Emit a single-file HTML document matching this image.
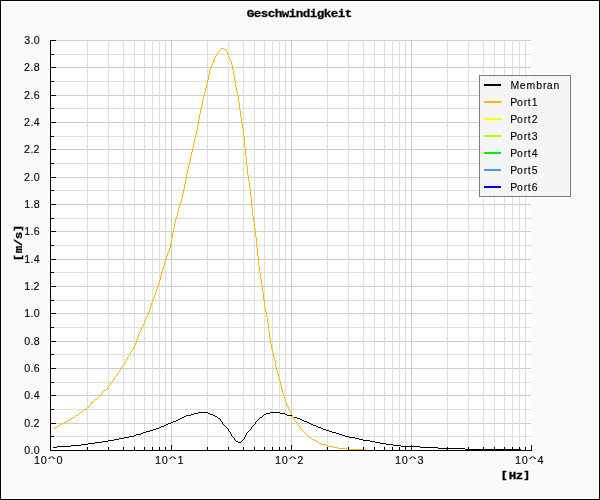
<!DOCTYPE html>
<html><head><meta charset="utf-8"><title>Geschwindigkeit</title>
<style>html,body{margin:0;padding:0;background:#fafafa;}svg{display:block;will-change:transform;}text{font-family:"Liberation Sans",sans-serif;fill:#000;}.m{font-family:"Liberation Mono",monospace;font-weight:bold;}</style>
</head><body>
<svg width="600" height="500" viewBox="0 0 600 500">
<rect x="0" y="0" width="600" height="500" fill="#000"/>
<rect x="1" y="1" width="598" height="498" fill="#fff"/>
<rect x="2" y="2" width="596" height="496" fill="#fafafa"/>
<rect x="51" y="40" width="480" height="410" fill="#fff"/>
<g shape-rendering="crispEdges">
<rect x="51" y="40" width="480" height="1" fill="#cccccc"/>
<rect x="51" y="54" width="480" height="1" fill="#dedede"/>
<rect x="51" y="67" width="480" height="1" fill="#cccccc"/>
<rect x="51" y="81" width="480" height="1" fill="#dedede"/>
<rect x="51" y="95" width="480" height="1" fill="#cccccc"/>
<rect x="51" y="108" width="480" height="1" fill="#dedede"/>
<rect x="51" y="122" width="480" height="1" fill="#cccccc"/>
<rect x="51" y="136" width="480" height="1" fill="#dedede"/>
<rect x="51" y="149" width="480" height="1" fill="#cccccc"/>
<rect x="51" y="163" width="480" height="1" fill="#dedede"/>
<rect x="51" y="177" width="480" height="1" fill="#cccccc"/>
<rect x="51" y="190" width="480" height="1" fill="#dedede"/>
<rect x="51" y="204" width="480" height="1" fill="#cccccc"/>
<rect x="51" y="218" width="480" height="1" fill="#dedede"/>
<rect x="51" y="231" width="480" height="1" fill="#cccccc"/>
<rect x="51" y="245" width="480" height="1" fill="#dedede"/>
<rect x="51" y="259" width="480" height="1" fill="#cccccc"/>
<rect x="51" y="272" width="480" height="1" fill="#dedede"/>
<rect x="51" y="286" width="480" height="1" fill="#cccccc"/>
<rect x="51" y="300" width="480" height="1" fill="#dedede"/>
<rect x="51" y="313" width="480" height="1" fill="#cccccc"/>
<rect x="51" y="327" width="480" height="1" fill="#dedede"/>
<rect x="51" y="341" width="480" height="1" fill="#cccccc"/>
<rect x="51" y="354" width="480" height="1" fill="#dedede"/>
<rect x="51" y="368" width="480" height="1" fill="#cccccc"/>
<rect x="51" y="382" width="480" height="1" fill="#dedede"/>
<rect x="51" y="395" width="480" height="1" fill="#cccccc"/>
<rect x="51" y="409" width="480" height="1" fill="#dedede"/>
<rect x="51" y="423" width="480" height="1" fill="#cccccc"/>
<rect x="51" y="436" width="480" height="1" fill="#dedede"/>
<rect x="87" y="40" width="1" height="410" fill="#dedede"/>
<rect x="108" y="40" width="1" height="410" fill="#dedede"/>
<rect x="123" y="40" width="1" height="410" fill="#dedede"/>
<rect x="134" y="40" width="1" height="410" fill="#dedede"/>
<rect x="144" y="40" width="1" height="410" fill="#dedede"/>
<rect x="152" y="40" width="1" height="410" fill="#dedede"/>
<rect x="159" y="40" width="1" height="410" fill="#dedede"/>
<rect x="165" y="40" width="1" height="410" fill="#dedede"/>
<rect x="171" y="40" width="1" height="410" fill="#cccccc"/>
<rect x="207" y="40" width="1" height="410" fill="#dedede"/>
<rect x="228" y="40" width="1" height="410" fill="#dedede"/>
<rect x="243" y="40" width="1" height="410" fill="#dedede"/>
<rect x="254" y="40" width="1" height="410" fill="#dedede"/>
<rect x="264" y="40" width="1" height="410" fill="#dedede"/>
<rect x="272" y="40" width="1" height="410" fill="#dedede"/>
<rect x="279" y="40" width="1" height="410" fill="#dedede"/>
<rect x="285" y="40" width="1" height="410" fill="#dedede"/>
<rect x="291" y="40" width="1" height="410" fill="#cccccc"/>
<rect x="327" y="40" width="1" height="410" fill="#dedede"/>
<rect x="348" y="40" width="1" height="410" fill="#dedede"/>
<rect x="363" y="40" width="1" height="410" fill="#dedede"/>
<rect x="374" y="40" width="1" height="410" fill="#dedede"/>
<rect x="384" y="40" width="1" height="410" fill="#dedede"/>
<rect x="392" y="40" width="1" height="410" fill="#dedede"/>
<rect x="399" y="40" width="1" height="410" fill="#dedede"/>
<rect x="405" y="40" width="1" height="410" fill="#dedede"/>
<rect x="411" y="40" width="1" height="410" fill="#cccccc"/>
<rect x="447" y="40" width="1" height="410" fill="#dedede"/>
<rect x="468" y="40" width="1" height="410" fill="#dedede"/>
<rect x="483" y="40" width="1" height="410" fill="#dedede"/>
<rect x="494" y="40" width="1" height="410" fill="#dedede"/>
<rect x="504" y="40" width="1" height="410" fill="#dedede"/>
<rect x="512" y="40" width="1" height="410" fill="#dedede"/>
<rect x="519" y="40" width="1" height="410" fill="#dedede"/>
<rect x="525" y="40" width="1" height="410" fill="#dedede"/>
</g>
<path d="M198 412h10v1h-10zM270 412h10v1h-10zM194 413h4v1h-4zM208 413h2v1h-2zM266 413h4v1h-4zM280 413h5v1h-5zM191 414h3v1h-3zM210 414h3v1h-3zM264 414h2v1h-2zM285 414h2v1h-2zM186 415h5v1h-5zM213 415h2v1h-2zM263 415h1v1h-1zM287 415h5v1h-5zM184 416h2v1h-2zM215 416h2v1h-2zM262 416h1v1h-1zM292 416h1v1h-1zM182 417h2v1h-2zM217 417h1v1h-1zM260 417h2v1h-2zM293 417h4v1h-4zM180 418h2v1h-2zM218 418h2v1h-2zM259 418h1v1h-1zM297 418h3v1h-3zM178 419h2v1h-2zM258 419h1v1h-1zM300 419h2v1h-2zM220 419h1v2h-1zM176 420h2v1h-2zM257 420h1v1h-1zM302 420h2v1h-2zM173 421h3v1h-3zM221 421h1v1h-1zM256 421h1v1h-1zM304 421h3v1h-3zM171 422h2v1h-2zM307 422h2v1h-2zM222 422h1v2h-1zM255 422h1v2h-1zM168 423h3v1h-3zM309 423h2v1h-2zM166 424h2v1h-2zM223 424h1v1h-1zM254 424h1v1h-1zM311 424h2v1h-2zM164 425h2v1h-2zM224 425h1v1h-1zM253 425h1v1h-1zM313 425h3v1h-3zM161 426h3v1h-3zM225 426h1v1h-1zM252 426h1v1h-1zM316 426h2v1h-2zM159 427h2v1h-2zM226 427h1v1h-1zM318 427h3v1h-3zM251 427h1v2h-1zM156 428h3v1h-3zM227 428h1v1h-1zM321 428h2v1h-2zM153 429h3v1h-3zM250 429h1v1h-1zM323 429h3v1h-3zM228 429h1v2h-1zM150 430h3v1h-3zM249 430h1v1h-1zM326 430h3v1h-3zM146 431h4v1h-4zM229 431h1v1h-1zM248 431h1v1h-1zM329 431h3v1h-3zM143 432h3v1h-3zM247 432h1v1h-1zM332 432h4v1h-4zM230 432h1v2h-1zM141 433h2v1h-2zM336 433h3v1h-3zM246 433h1v2h-1zM136 434h5v1h-5zM339 434h3v1h-3zM231 434h1v2h-1zM134 435h2v1h-2zM342 435h3v1h-3zM245 435h1v2h-1zM129 436h5v1h-5zM232 436h1v1h-1zM345 436h4v1h-4zM124 437h5v1h-5zM233 437h1v1h-1zM349 437h6v1h-6zM244 437h1v2h-1zM119 438h5v1h-5zM355 438h4v1h-4zM234 438h1v2h-1zM114 439h5v1h-5zM243 439h1v1h-1zM359 439h4v1h-4zM108 440h6v1h-6zM235 440h1v1h-1zM242 440h1v1h-1zM363 440h7v1h-7zM102 441h6v1h-6zM236 441h2v1h-2zM241 441h1v1h-1zM370 441h5v1h-5zM95 442h7v1h-7zM238 442h3v1h-3zM375 442h5v1h-5zM88 443h7v1h-7zM380 443h6v1h-6zM81 444h7v1h-7zM386 444h7v1h-7zM71 445h10v1h-10zM393 445h8v1h-8zM57 446h14v1h-14zM401 446h19v1h-19zM53 447h4v1h-4zM420 447h18v1h-18zM438 448h27v1h-27zM465 449h56v1h-56zM521 450h9v1h-9z" fill="#000" shape-rendering="crispEdges"/>
<path d="M221 48h3v1h-3zM220 49h1v1h-1zM224 49h2v1h-2zM219 50h1v1h-1zM226 50h1v2h-1zM218 51h1v1h-1zM217 52h1v2h-1zM227 52h1v2h-1zM216 54h1v2h-1zM228 54h1v3h-1zM215 56h1v2h-1zM229 57h1v2h-1zM214 58h1v3h-1zM230 59h1v2h-1zM213 60h1v3h-1zM231 61h1v4h-1zM212 63h1v2h-1zM211 65h1v2h-1zM232 65h1v5h-1zM210 67h1v3h-1zM209 70h1v5h-1zM233 70h1v5h-1zM208 75h1v5h-1zM234 75h1v6h-1zM207 80h1v4h-1zM235 81h1v6h-1zM206 84h1v4h-1zM236 87h1v4h-1zM205 88h1v4h-1zM237 91h1v4h-1zM204 92h1v4h-1zM238 95h1v7h-1zM203 96h1v4h-1zM202 100h1v5h-1zM239 102h1v8h-1zM201 105h1v4h-1zM200 109h1v5h-1zM240 110h1v7h-1zM199 114h1v5h-1zM241 117h1v6h-1zM198 119h1v6h-1zM242 123h1v6h-1zM197 125h1v5h-1zM243 129h1v8h-1zM196 130h1v5h-1zM195 135h1v4h-1zM244 137h1v10h-1zM194 139h1v4h-1zM193 143h1v5h-1zM245 147h1v9h-1zM192 148h1v4h-1zM191 152h1v4h-1zM190 156h1v5h-1zM246 156h1v10h-1zM189 161h1v4h-1zM188 165h1v4h-1zM247 166h1v9h-1zM187 169h1v5h-1zM186 174h1v5h-1zM248 175h1v6h-1zM185 179h1v5h-1zM249 181h1v7h-1zM184 184h1v5h-1zM250 188h1v9h-1zM183 189h1v5h-1zM182 194h1v4h-1zM251 197h1v10h-1zM181 198h1v4h-1zM180 202h1v3h-1zM179 205h1v3h-1zM252 207h1v9h-1zM178 208h1v4h-1zM177 212h1v4h-1zM176 216h1v3h-1zM253 216h1v6h-1zM175 219h1v4h-1zM254 222h1v7h-1zM174 223h1v5h-1zM173 228h1v5h-1zM255 229h1v8h-1zM172 233h1v5h-1zM256 237h1v10h-1zM171 238h1v5h-1zM170 243h1v5h-1zM257 247h1v9h-1zM169 248h1v3h-1zM168 251h1v2h-1zM167 253h1v3h-1zM166 256h1v3h-1zM258 256h1v10h-1zM165 259h1v3h-1zM164 262h1v4h-1zM163 266h1v3h-1zM259 266h1v7h-1zM162 269h1v3h-1zM161 272h1v4h-1zM260 273h1v6h-1zM160 276h1v4h-1zM261 279h1v6h-1zM159 280h1v3h-1zM158 283h1v3h-1zM262 285h1v7h-1zM157 286h1v3h-1zM156 289h1v3h-1zM155 292h1v3h-1zM263 292h1v8h-1zM154 295h1v3h-1zM153 298h1v3h-1zM264 300h1v7h-1zM152 301h1v2h-1zM151 303h1v3h-1zM150 306h1v3h-1zM265 307h1v5h-1zM149 309h1v3h-1zM148 312h1v3h-1zM266 312h1v5h-1zM147 315h1v2h-1zM146 317h1v2h-1zM267 317h1v6h-1zM145 319h1v2h-1zM144 321h1v3h-1zM268 323h1v8h-1zM143 324h1v2h-1zM142 326h1v2h-1zM141 328h1v2h-1zM140 330h1v2h-1zM269 331h1v7h-1zM139 332h1v2h-1zM138 334h1v3h-1zM137 337h1v3h-1zM270 338h1v6h-1zM136 340h1v3h-1zM135 343h1v2h-1zM271 344h1v5h-1zM134 345h1v2h-1zM133 347h1v2h-1zM132 349h1v2h-1zM272 349h1v4h-1zM131 351h1v1h-1zM130 352h1v2h-1zM273 353h1v4h-1zM129 354h1v2h-1zM128 356h1v1h-1zM127 357h1v2h-1zM274 357h1v4h-1zM126 359h1v2h-1zM125 361h1v2h-1zM275 361h1v6h-1zM124 363h1v2h-1zM123 365h1v1h-1zM122 366h1v1h-1zM121 367h1v2h-1zM276 367h1v4h-1zM120 369h1v1h-1zM119 370h1v2h-1zM277 371h1v3h-1zM118 372h1v1h-1zM117 373h1v2h-1zM278 374h1v3h-1zM116 375h1v1h-1zM115 376h1v1h-1zM114 377h1v2h-1zM279 377h1v4h-1zM113 379h1v2h-1zM112 381h1v1h-1zM280 381h1v4h-1zM111 382h1v1h-1zM110 383h1v2h-1zM109 385h1v1h-1zM281 385h1v4h-1zM108 386h1v1h-1zM107 387h1v2h-1zM106 389h1v1h-1zM282 389h1v4h-1zM104 390h2v1h-2zM103 391h1v1h-1zM102 392h1v1h-1zM101 393h1v2h-1zM283 393h1v3h-1zM100 395h1v1h-1zM99 396h1v1h-1zM284 396h1v3h-1zM98 397h1v1h-1zM97 398h1v1h-1zM95 399h2v1h-2zM285 399h1v3h-1zM94 400h1v1h-1zM93 401h1v1h-1zM92 402h1v1h-1zM91 402h1v2h-1zM286 402h1v3h-1zM90 404h1v1h-1zM89 405h1v2h-1zM287 405h1v2h-1zM87 407h2v1h-2zM288 407h1v2h-1zM86 408h1v1h-1zM84 409h2v1h-2zM289 409h1v2h-1zM83 410h1v1h-1zM82 411h1v1h-1zM290 411h1v2h-1zM80 412h2v1h-2zM79 413h1v1h-1zM291 413h1v2h-1zM78 414h1v1h-1zM76 415h2v1h-2zM292 415h1v2h-1zM75 416h1v1h-1zM73 417h2v1h-2zM293 417h1v2h-1zM71 418h2v1h-2zM70 419h1v1h-1zM294 419h1v2h-1zM68 420h2v1h-2zM66 421h2v1h-2zM295 421h1v1h-1zM64 422h2v1h-2zM296 422h1v2h-1zM62 423h2v1h-2zM60 424h2v1h-2zM297 424h1v1h-1zM59 425h1v1h-1zM298 425h1v1h-1zM57 426h2v1h-2zM299 426h1v1h-1zM55 427h2v1h-2zM300 427h1v2h-1zM53 428h2v1h-2zM301 429h1v1h-1zM302 430h1v1h-1zM303 431h1v1h-1zM304 432h1v1h-1zM305 433h1v1h-1zM306 434h1v1h-1zM307 435h1v1h-1zM308 436h1v1h-1zM309 437h2v1h-2zM311 438h1v1h-1zM312 439h2v1h-2zM314 440h2v1h-2zM316 441h2v1h-2zM318 442h1v1h-1zM319 443h2v1h-2zM321 444h5v1h-5zM326 445h2v1h-2zM328 446h5v1h-5zM333 447h5v1h-5zM338 448h9v1h-9zM347 449h19v1h-19zM366 450h164v1h-164z" fill="#ffb600" shape-rendering="crispEdges"/>
<g shape-rendering="crispEdges" fill="#000">
<rect x="50" y="40" width="1" height="411"/>
<rect x="50" y="450" width="482" height="1"/>
<rect x="51" y="40" width="5" height="1"/>
<rect x="51" y="54" width="3" height="1"/>
<rect x="51" y="67" width="5" height="1"/>
<rect x="51" y="81" width="3" height="1"/>
<rect x="51" y="95" width="5" height="1"/>
<rect x="51" y="108" width="3" height="1"/>
<rect x="51" y="122" width="5" height="1"/>
<rect x="51" y="136" width="3" height="1"/>
<rect x="51" y="149" width="5" height="1"/>
<rect x="51" y="163" width="3" height="1"/>
<rect x="51" y="177" width="5" height="1"/>
<rect x="51" y="190" width="3" height="1"/>
<rect x="51" y="204" width="5" height="1"/>
<rect x="51" y="218" width="3" height="1"/>
<rect x="51" y="231" width="5" height="1"/>
<rect x="51" y="245" width="3" height="1"/>
<rect x="51" y="259" width="5" height="1"/>
<rect x="51" y="272" width="3" height="1"/>
<rect x="51" y="286" width="5" height="1"/>
<rect x="51" y="300" width="3" height="1"/>
<rect x="51" y="313" width="5" height="1"/>
<rect x="51" y="327" width="3" height="1"/>
<rect x="51" y="341" width="5" height="1"/>
<rect x="51" y="354" width="3" height="1"/>
<rect x="51" y="368" width="5" height="1"/>
<rect x="51" y="382" width="3" height="1"/>
<rect x="51" y="395" width="5" height="1"/>
<rect x="51" y="409" width="3" height="1"/>
<rect x="51" y="423" width="5" height="1"/>
<rect x="51" y="436" width="3" height="1"/>
<rect x="51" y="450" width="5" height="1"/>
<rect x="87" y="447" width="1" height="3"/>
<rect x="108" y="447" width="1" height="3"/>
<rect x="123" y="447" width="1" height="3"/>
<rect x="134" y="447" width="1" height="3"/>
<rect x="144" y="447" width="1" height="3"/>
<rect x="152" y="447" width="1" height="3"/>
<rect x="159" y="447" width="1" height="3"/>
<rect x="165" y="447" width="1" height="3"/>
<rect x="171" y="445" width="1" height="5"/>
<rect x="207" y="447" width="1" height="3"/>
<rect x="228" y="447" width="1" height="3"/>
<rect x="243" y="447" width="1" height="3"/>
<rect x="254" y="447" width="1" height="3"/>
<rect x="264" y="447" width="1" height="3"/>
<rect x="272" y="447" width="1" height="3"/>
<rect x="279" y="447" width="1" height="3"/>
<rect x="285" y="447" width="1" height="3"/>
<rect x="291" y="445" width="1" height="5"/>
<rect x="327" y="447" width="1" height="3"/>
<rect x="348" y="447" width="1" height="3"/>
<rect x="363" y="447" width="1" height="3"/>
<rect x="374" y="447" width="1" height="3"/>
<rect x="384" y="447" width="1" height="3"/>
<rect x="392" y="447" width="1" height="3"/>
<rect x="399" y="447" width="1" height="3"/>
<rect x="405" y="447" width="1" height="3"/>
<rect x="411" y="445" width="1" height="5"/>
<rect x="447" y="447" width="1" height="3"/>
<rect x="468" y="447" width="1" height="3"/>
<rect x="483" y="447" width="1" height="3"/>
<rect x="494" y="447" width="1" height="3"/>
<rect x="504" y="447" width="1" height="3"/>
<rect x="512" y="447" width="1" height="3"/>
<rect x="519" y="447" width="1" height="3"/>
<rect x="525" y="447" width="1" height="3"/>
<rect x="531" y="445" width="1" height="5"/>
</g>
<text font-size="10.45" stroke="#000" stroke-width="0.12" x="23.75 29.87 33.09" y="0" transform="translate(0 43.65) scale(1.02 1.0)">3.0</text>
<text font-size="10.45" stroke="#000" stroke-width="0.12" x="23.61 29.87 33.09" y="0" transform="translate(0 70.65) scale(1.02 1.0)">2.8</text>
<text font-size="10.45" stroke="#000" stroke-width="0.12" x="23.61 29.87 33.09" y="0" transform="translate(0 98.65) scale(1.02 1.0)">2.6</text>
<text font-size="10.45" stroke="#000" stroke-width="0.12" x="23.61 29.87 33.09" y="0" transform="translate(0 125.65) scale(1.02 1.0)">2.4</text>
<text font-size="10.45" stroke="#000" stroke-width="0.12" x="23.61 29.87 32.96" y="0" transform="translate(0 152.65) scale(1.02 1.0)">2.2</text>
<text font-size="10.45" stroke="#000" stroke-width="0.12" x="23.61 29.87 33.09" y="0" transform="translate(0 180.65) scale(1.02 1.0)">2.0</text>
<text font-size="10.45" stroke="#000" stroke-width="0.12" x="23.68 29.87 33.09" y="0" transform="translate(0 207.65) scale(1.02 1.0)">1.8</text>
<text font-size="10.45" stroke="#000" stroke-width="0.12" x="23.68 29.87 33.09" y="0" transform="translate(0 234.65) scale(1.02 1.0)">1.6</text>
<text font-size="10.45" stroke="#000" stroke-width="0.12" x="23.68 29.87 33.09" y="0" transform="translate(0 262.65) scale(1.02 1.0)">1.4</text>
<text font-size="10.45" stroke="#000" stroke-width="0.12" x="23.68 29.87 32.96" y="0" transform="translate(0 289.65) scale(1.02 1.0)">1.2</text>
<text font-size="10.45" stroke="#000" stroke-width="0.12" x="23.68 29.87 33.09" y="0" transform="translate(0 316.65) scale(1.02 1.0)">1.0</text>
<text font-size="10.45" stroke="#000" stroke-width="0.12" x="23.74 29.87 33.09" y="0" transform="translate(0 344.65) scale(1.02 1.0)">0.8</text>
<text font-size="10.45" stroke="#000" stroke-width="0.12" x="23.74 29.87 33.09" y="0" transform="translate(0 371.65) scale(1.02 1.0)">0.6</text>
<text font-size="10.45" stroke="#000" stroke-width="0.12" x="23.74 29.87 33.09" y="0" transform="translate(0 398.65) scale(1.02 1.0)">0.4</text>
<text font-size="10.45" stroke="#000" stroke-width="0.12" x="23.74 29.87 32.96" y="0" transform="translate(0 426.65) scale(1.02 1.0)">0.2</text>
<text font-size="10.45" stroke="#000" stroke-width="0.12" x="23.74 29.87 33.09" y="0" transform="translate(0 453.65) scale(1.02 1.0)">0.0</text>
<text font-size="10.45" stroke="#000" stroke-width="0.12" x="32.64 39.22 46.19 54.34" y="0" transform="translate(0 463.60) scale(1.04 1.0)">10<tspan font-size="7.4" dy="-2.22" textLength="7.00" lengthAdjust="spacingAndGlyphs">^</tspan><tspan dy="2.22">0</tspan></text>
<text font-size="10.45" stroke="#000" stroke-width="0.12" x="148.99 155.57 162.54 170.64" y="0" transform="translate(0 463.60) scale(1.04 1.0)">10<tspan font-size="7.4" dy="-2.22" textLength="7.00" lengthAdjust="spacingAndGlyphs">^</tspan><tspan dy="2.22">1</tspan></text>
<text font-size="10.45" stroke="#000" stroke-width="0.12" x="264.37 270.95 277.92 285.94" y="0" transform="translate(0 463.60) scale(1.04 1.0)">10<tspan font-size="7.4" dy="-2.22" textLength="7.00" lengthAdjust="spacingAndGlyphs">^</tspan><tspan dy="2.22">2</tspan></text>
<text font-size="10.45" stroke="#000" stroke-width="0.12" x="379.76 386.33 393.31 401.47" y="0" transform="translate(0 463.60) scale(1.04 1.0)">10<tspan font-size="7.4" dy="-2.22" textLength="7.00" lengthAdjust="spacingAndGlyphs">^</tspan><tspan dy="2.22">3</tspan></text>
<text font-size="10.45" stroke="#000" stroke-width="0.12" x="495.14 501.72 508.69 516.84" y="0" transform="translate(0 463.60) scale(1.04 1.0)">10<tspan font-size="7.4" dy="-2.22" textLength="7.00" lengthAdjust="spacingAndGlyphs">^</tspan><tspan dy="2.22">4</tspan></text>
<text class="m" font-size="11.67" stroke="#000" stroke-width="0.25" x="228.44 234.92 241.41 247.89 254.37 260.85 267.33 273.81 280.30 286.78 293.26 299.74 306.22 312.70 319.18" y="0" transform="translate(0 16.8) scale(1.08 1.0)">Geschwindigkeit</text>
<text class="m" font-size="11.67" stroke="#000" stroke-width="0.25" x="463.87 471.04 477.52 484.82" y="0" transform="translate(0 479.3) scale(1.08 1.0)"><tspan font-size="9.9" stroke-width="0.55" dy="-1.10">[</tspan><tspan dy="1.10">H</tspan>z<tspan font-size="9.9" stroke-width="0.55" dy="-1.10">]</tspan></text>
<text class="m" font-size="11.67" stroke="#000" stroke-width="0.25" x="-0.94 6.22 12.70 19.18 26.48" y="0" transform="translate(22.1 260) rotate(-90) translate(0 0) scale(1.08 1.0)"><tspan font-size="9.9" stroke-width="0.55" dy="-1.10">[</tspan><tspan dy="1.10">m</tspan>/s<tspan font-size="9.9" stroke-width="0.55" dy="-1.10">]</tspan></text>
<g shape-rendering="crispEdges"><rect x="479.5" y="75.5" width="91" height="121" fill="#f5f5f5" stroke="#7c7c7c" stroke-width="1"/>
<rect x="484" y="84" width="17" height="2" fill="#000000"/>
<rect x="484" y="101" width="17" height="2" fill="#ffb600"/>
<rect x="484" y="118" width="17" height="2" fill="#ffff00"/>
<rect x="484" y="135" width="17" height="2" fill="#b4ff00"/>
<rect x="484" y="152" width="17" height="2" fill="#00f400"/>
<rect x="484" y="169" width="17" height="2" fill="#3c9bff"/>
<rect x="484" y="186" width="17" height="2" fill="#0000f6"/>
</g>
<text font-size="10.45" stroke="#000" stroke-width="0.12" x="510.54 519.69 526.51 536.37 543.11 546.68 553.57" y="0" transform="translate(0 88.60) scale(1.0 1.0)">Membran</text>
<text font-size="10.45" stroke="#000" stroke-width="0.12" x="510.23 516.95 523.64 527.87 531.74" y="0" transform="translate(0 105.60) scale(1.0 1.0)">Port1</text>
<text font-size="10.45" stroke="#000" stroke-width="0.12" x="510.23 516.95 523.64 527.87 531.65" y="0" transform="translate(0 122.60) scale(1.0 1.0)">Port2</text>
<text font-size="10.45" stroke="#000" stroke-width="0.12" x="510.23 516.95 523.64 527.87 531.80" y="0" transform="translate(0 139.60) scale(1.0 1.0)">Port3</text>
<text font-size="10.45" stroke="#000" stroke-width="0.12" x="510.23 516.95 523.64 527.87 531.79" y="0" transform="translate(0 156.60) scale(1.0 1.0)">Port4</text>
<text font-size="10.45" stroke="#000" stroke-width="0.12" x="510.23 516.95 523.64 527.87 531.75" y="0" transform="translate(0 173.60) scale(1.0 1.0)">Port5</text>
<text font-size="10.45" stroke="#000" stroke-width="0.12" x="510.23 516.95 523.64 527.87 531.79" y="0" transform="translate(0 190.60) scale(1.0 1.0)">Port6</text>
</svg></body></html>
